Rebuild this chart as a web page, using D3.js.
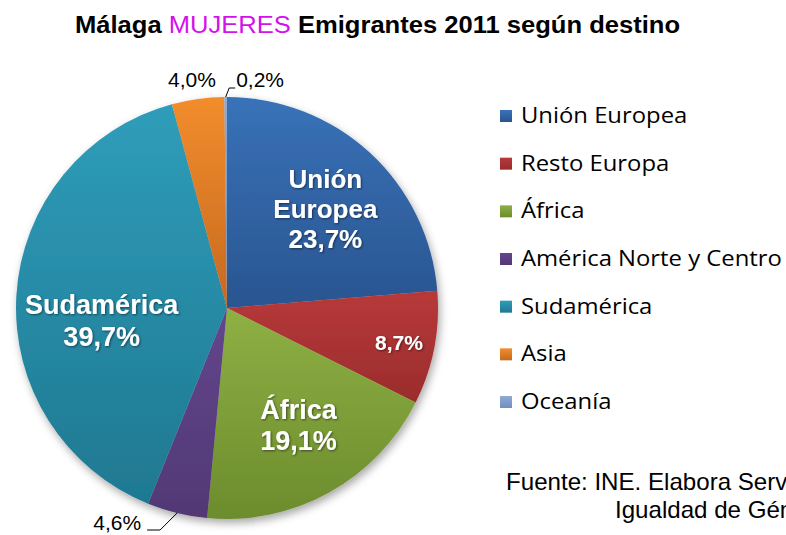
<!DOCTYPE html>
<html>
<head>
<meta charset="utf-8">
<style>
  body { margin: 0; background: #fff; }
  svg { display: block; }
</style>
</head>
<body>
<div id="chart"></div>
<script src="https://cdn.jsdelivr.net/npm/d3@7"></script>
<script>
// ---------------------------------------------------------------- data
var categories = ["Unión Europea", "Resto Europa", "África", "América Norte y Centro", "Sudamérica", "Asia", "Oceanía"];
var values = [23.7, 8.7, 19.1, 4.6, 39.7, 4.0, 0.2];
var colorsTop = ["#3872b8", "#b8393a", "#8eb044", "#62468c", "#2f9dba", "#f28d2d", "#8eaad6"];
var colorsBottom = ["#2a5590", "#9a2c2c", "#6c8c2d", "#523875", "#1f7891", "#c6691f", "#6f8fc0"];

// ---------------------------------------------------------------- layout
var width = 786, height = 535;
var cx = 227, cy = 308, radius = 211;

var svg = d3.select("#chart").append("svg")
    .attr("width", width)
    .attr("height", height);

var defs = svg.append("defs");

var color = d3.scaleOrdinal().domain(categories).range(d3.range(categories.length));

categories.forEach(function(c, i) {
  var g = defs.append("linearGradient")
      .attr("id", "grad" + i)
      .attr("x1", 0).attr("y1", 0).attr("x2", 0).attr("y2", 1);
  g.append("stop").attr("offset", "0%").attr("stop-color", colorsTop[i]);
  g.append("stop").attr("offset", "100%").attr("stop-color", colorsBottom[i]);
});

var shadow = defs.append("filter").attr("id", "pieShadow")
    .attr("x", "-20%").attr("y", "-20%").attr("width", "140%").attr("height", "140%");
shadow.append("feDropShadow")
    .attr("dx", 2).attr("dy", 4).attr("stdDeviation", 4)
    .attr("flood-color", "#000").attr("flood-opacity", 0.35);

var textShadow = defs.append("filter").attr("id", "textShadow");
textShadow.append("feDropShadow")
    .attr("dx", 1).attr("dy", 1).attr("stdDeviation", 0.8)
    .attr("flood-color", "#000").attr("flood-opacity", 0.5);

var locale = d3.formatLocale({decimal: ",", thousands: ".", grouping: [3], currency: ["", "€"]});
var pct = function(v) { return locale.format(".1f")(v) + "%"; };

// ---------------------------------------------------------------- title
var title = svg.append("text")
    .attr("x", 75)
    .attr("y", 33)
    .attr("textLength", 605)
    .attr("lengthAdjust", "spacingAndGlyphs")
    .style("font-family", "'Liberation Sans', Arial, sans-serif")
    .style("font-size", "23px")
    .style("font-weight", "bold");
title.append("tspan").text("Málaga ");
title.append("tspan").attr("fill", "#d411ec").style("font-weight", "normal").text("MUJERES");
title.append("tspan").text(" Emigrantes 2011 según destino");

// ---------------------------------------------------------------- pie
var pie = d3.pie().sort(null).value(function(d) { return d; });
var arcs = pie(values);
var arc = d3.arc().innerRadius(0).outerRadius(radius);
var edge = d3.arc().innerRadius(radius).outerRadius(radius);

var pieG = svg.append("g")
    .attr("transform", "translate(" + cx + "," + cy + ")");

pieG.append("g")
    .attr("filter", "url(#pieShadow)")
    .selectAll("path")
    .data(arcs)
    .enter().append("path")
    .attr("d", arc)
    .attr("fill", function(d, i) { return "url(#grad" + color(categories[i]) + ")"; });

function midPoint(d, r) {
  var a = (d.startAngle + d.endAngle) / 2;
  return [r * Math.sin(a), -r * Math.cos(a)];
}

// labels inside the slices
var insideLabels = {
  "Unión Europea": {lines: ["Unión", "Europea"], r: 0.66, dx: 4, dy: 3, size: 26},
  "Resto Europa": {lines: [], r: 0.83, dx: 0, dy: 1, size: 21},
  "África": {lines: ["África"], r: 0.65, dx: 5, dy: -3, size: 27},
  "Sudamérica": {lines: ["Sudamérica"], r: 0.6, dx: 1, dy: 20, size: 27}
};

arcs.forEach(function(d, i) {
  var cfg = insideLabels[categories[i]];
  if (!cfg) return;
  var p = midPoint(d, cfg.r * radius);
  var lines = cfg.lines.concat([pct(values[i])]);
  var lh = cfg.size * 1.17;
  var y0 = p[1] + cfg.dy - (lines.length - 1) * lh / 2 + cfg.size * 0.36;
  var t = pieG.append("text")
      .attr("text-anchor", "middle")
      .attr("fill", "#fff")
      .attr("filter", "url(#textShadow)")
      .style("font-family", "'Liberation Sans', Arial, sans-serif")
      .style("font-size", cfg.size + "px")
      .style("font-weight", "bold");
  lines.forEach(function(l, k) {
    t.append("tspan")
        .attr("x", p[0] + cfg.dx)
        .attr("y", y0 + k * lh)
        .text(l);
  });
});

// labels outside the slices, with leader lines
var outsideLabels = {
  "América Norte y Centro": {leader: [[-17, 17], [-30, 17]], anchor: "end", tx: -36, ty: 17},
  "Asia": {leader: null, anchor: "middle", tx: -6, ty: -12},
  "Oceanía": {leader: [[3.5, -9], [9.5, -9]], anchor: "start", tx: 10.5, ty: -10}
};

arcs.forEach(function(d, i) {
  var cfg = outsideLabels[categories[i]];
  if (!cfg) return;
  var e = edge.centroid(d);
  if (cfg.leader) {
    var pts = [e].concat(cfg.leader.map(function(o) { return [e[0] + o[0], e[1] + o[1]]; }));
    pieG.append("path")
        .attr("d", d3.line()(pts))
        .attr("fill", "none")
        .attr("stroke", "#000")
        .attr("stroke-width", 1);
  }
  pieG.append("text")
      .attr("x", e[0] + cfg.tx)
      .attr("y", e[1] + cfg.ty)
      .attr("text-anchor", cfg.anchor)
      .style("font-family", "'Liberation Sans', Arial, sans-serif")
      .style("font-size", "21px")
      .text(pct(values[i]));
});

// ---------------------------------------------------------------- legend
var legendY = d3.scalePoint().domain(categories).range([116, 402]);

var legend = svg.append("g").selectAll("g")
    .data(categories)
    .enter().append("g")
    .attr("transform", function(d) { return "translate(500," + legendY(d) + ")"; });

legend.append("rect")
    .attr("x", 0).attr("y", -6)
    .attr("width", 12).attr("height", 12)
    .attr("fill", function(d) { return "url(#grad" + color(d) + ")"; });

var legendText = legend.append("text")
    .attr("y", 7)
    .style("font-family", "'Open Sans', 'Noto Sans', sans-serif")
    .style("font-size", "21px")
    .text(function(d) { return d; });

// stretch legend text horizontally so the longest label reaches the right edge
var longest = d3.max(legendText.nodes(), function(n) { return n.getComputedTextLength(); });
var sx = 261 / longest;
legendText.attr("transform", "translate(21,0) scale(" + sx + ",1)");

// ---------------------------------------------------------------- source
var src = svg.append("g")
    .style("font-family", "'Liberation Sans', Arial, sans-serif")
    .style("font-size", "23px")
    .attr("fill", "#000");

var s1 = src.append("text").attr("x", 0).attr("y", 0);
var s1a = s1.append("tspan").text("Fuente: INE. Elabora ");
s1.append("tspan").text("Servicio de");
var ssx = 232 / s1a.node().getComputedTextLength();
s1.attr("transform", "translate(506,490) scale(" + ssx + ",1)");

src.append("text")
    .attr("transform", "translate(615,518) scale(" + ssx + ",1)")
    .text("Igualdad de Género");
</script>
</body>
</html>
